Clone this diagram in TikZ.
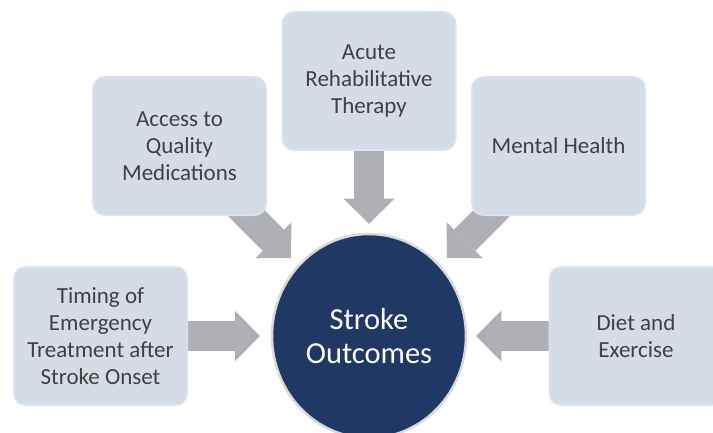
\documentclass[tikz,border=0pt]{standalone}
\usepackage{fontspec}
\setmainfont{Carlito}
\usepackage{tikz}
\usetikzlibrary{arrows.meta,positioning,shapes.geometric}
\definecolor{boxfill}{HTML}{D6DCE5}
\definecolor{boxline}{HTML}{DDE4F0}
\definecolor{hubfill}{HTML}{1F3864}
\definecolor{hubline}{HTML}{DADADA}
\definecolor{arrowgray}{HTML}{AEB0B5}
\definecolor{textgray}{HTML}{404040}
\pgfdeclarelayer{background}
\pgfsetlayers{background,main}

\begin{document}
\begin{tikzpicture}[x=1pt,y=1pt,on grid,auto,semithick]
		\tikzstyle{factor}=[rectangle,rounded corners=12pt,fill=boxfill,draw=boxline,line width=1.5pt,
		minimum width=173.5pt,minimum height=138.5pt,align=center,text=textgray,
		font=\fontsize{23}{27}\selectfont]
		\tikzstyle{hub}=[ellipse,fill=hubfill,draw=hubline,line width=2.5pt,minimum width=194pt,
		minimum height=204pt,align=center,text=white,font=\fontsize{30.5}{34}\selectfont]
		\tikzstyle{blockarrow}=[color=arrowgray,line width=30pt,
		-{Triangle[length=25pt,width=51pt,line width=0pt,fill=arrowgray]}]
		
		\useasboundingbox (0,0) rectangle (713,432);
		
		\node[hub]    (out)                                 at (369,96) {Stroke\\Outcomes};
		\node[factor] (tim)  [left=268.5pt of out]                       {Timing of\\Emergency\\Treatment after\\Stroke Onset};
		\node[factor] (acc)  [above left=190pt and 189.5pt of out]       {Access to\\Quality\\Medications};
		\node[factor] (acu)  [above=255pt of out]                        {Acute\\Rehabilitative\\Therapy};
		\node[factor] (men)  [above right=190pt and 189.5pt of out]      {Mental Health};
		\node[factor] (diet) [right=267pt of out]                        {Diet and\\Exercise};
		
		\coordinate (timTip)  at ([xshift=-11pt]out.west);
		\coordinate (accTip)  at ([shift={(-78pt,78pt)}]out.center);
		\coordinate (acuTip)  at ([yshift=9pt]out.north);
		\coordinate (menTip)  at ([shift={(78pt,78pt)}]out.center);
		\coordinate (dietTip) at ([xshift=9pt]out.east);
		
		\begin{pgfonlayer}{background}
		\path[blockarrow]
		(tim.center) edge (timTip);
		\path[blockarrow]
		(acc.center) edge (accTip);
		\path[blockarrow]
		(acu.center) edge (acuTip);
		\path[blockarrow]
		(men.center) edge (menTip);
		\path[blockarrow]
		(diet.center) edge (dietTip);
		\end{pgfonlayer}
\end{tikzpicture}
\end{document}
